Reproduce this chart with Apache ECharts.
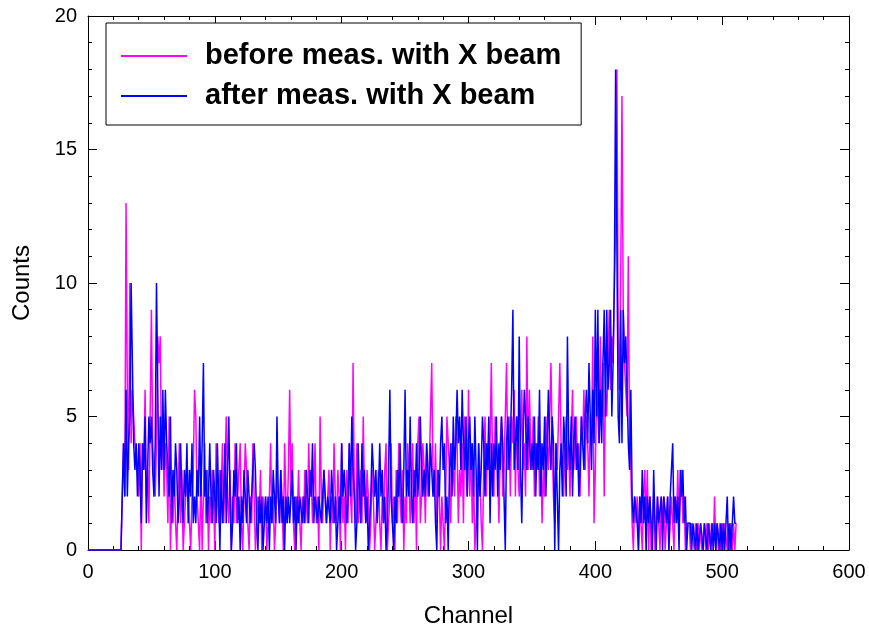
<!DOCTYPE html>
<html><head><meta charset="utf-8">
<script src="https://cdn.jsdelivr.net/npm/echarts@6/dist/echarts.min.js"></script>
<style>html,body{margin:0;padding:0;background:#fff}#c{width:869px;height:630px}</style>
</head><body><div id="c"></div>
<script>
// Counts per channel (index = channel)
var before = [
0,0,0,0,0,0,0,0,0,0, 0,0,0,0,0,0,0,0,0,0, 0,0,0,0,0,0,0,0,4,2,
13,6,3,10,4,6,5,4,4,3,
2,4,0,4,3,6,2,3,1,5,
9,4,3,2,4,8,7,8,3,5,
2,4,3,1,5,0,2,1,3,1,
0,2,4,1,3,0,1,2,3,2,
1,0,2,3,6,5,2,1,0,3,
0,2,4,1,3,0,2,1,3,2,
0,4,2,1,3,2,4,1,3,5,
2,1,3,0,2,1,4,1,2,3,
4,1,0,2,4,3,1,0,2,1,
4,2,0,1,2,1,3,0,2,1,
2,0,1,2,4,1,2,0,1,3,
2,1,3,2,0,4,2,1,3,6,
2,4,1,0,2,1,3,1,0,2,
1,3,2,1,4,2,3,1,2,4,
1,2,0,5,2,1,3,2,1,2,
3,0,2,1,4,2,1,3,2,0,
4,1,2,0,3,1,4,2,1,7,
2,1,4,1,2,3,1,5,2,1,
3,2,0,1,3,2,0,1,2,3,
1,0,2,1,3,4,0,1,2,4,
1,2,0,3,1,4,2,1,3,0,
2,1,4,3,1,2,4,1,3,0,
4,5,1,2,4,3,1,4,2,3,
5,7,3,2,4,1,3,2,0,2,
1,0,2,5,5,3,1,4,3,2,
5,4,1,3,2,4,1,5,3,2,
6,2,4,1,3,0,1,2,4,3,
1,0,3,5,2,4,3,4,7,3,
2,5,4,3,1,4,5,2,3,5,
7,3,5,2,5,4,6,2,5,3,
2,4,6,3,4,2,8,3,6,4,
3,5,2,4,3,5,2,4,1,3,
2,5,4,3,5,7,4,2,1,4,
3,5,7,4,3,2,4,5,3,4,
2,4,6,3,4,5,3,4,2,5,
4,6,3,5,4,2,5,4,8,1,
3,6,5,4,8,5,7,2,6,5,
7,9,6,8,7,10,12,18,8,6,
10,17,9,7,6,5,11,4,3,1,
0,2,1,2,0,2,1,0,2,3,
1,3,0,2,0,1,2,0,1,2,
1,0,2,1,2,0,1,2,0,1,
2,1,0,2,1,3,1,2,3,1,
2,0,1,1,1,0,1,1,0,1,
0,1,0,1,0,0,1,0,1,0,
1,0,1,0,2,0,1,0,1,0,
1,0,1,1,0,1,0,1,0,1,0,1
];
var after = [
0,0,0,0,0,0,0,0,0,0, 0,0,0,0,0,0,0,0,0,0, 0,0,0,0,0,0,0,0,4,2,
6,2,4,5,10,10,4,3,4,2,
4,3,1,4,3,5,1,3,5,4,
5,3,2,4,10,6,2,5,3,6,
3,6,4,3,2,5,1,3,2,4,
3,1,2,4,2,1,3,2,4,1,
3,2,4,1,2,1,3,2,5,2,
4,7,2,3,1,2,4,2,1,3,
2,1,4,2,0,3,1,2,4,1,
3,5,2,0,1,3,2,4,1,2,
0,2,1,3,2,1,3,2,1,2,
3,4,3,1,0,2,1,2,0,1,
2,1,2,0,2,1,3,2,1,5,
2,1,3,1,2,0,2,1,2,1,
2,3,1,2,0,2,1,2,2,1,
2,1,3,2,1,3,2,4,1,2,
2,1,2,2,1,2,3,2,1,2,
2,1,3,2,1,2,0,1,2,1,
4,2,3,2,1,2,4,2,5,3,
2,0,1,4,2,1,4,2,3,1,
2,0,1,2,4,3,2,3,1,2,
4,2,3,1,2,0,1,3,6,2,
1,0,2,1,3,2,4,2,1,3,
6,2,3,2,5,2,1,3,2,4,
2,3,5,3,2,3,2,4,3,2,
4,3,2,3,1,0,3,2,4,5,
3,4,1,2,0,3,4,2,5,3,
4,6,4,5,3,6,4,3,5,2,
4,5,3,4,2,5,3,0,4,2,
3,5,4,2,4,3,5,1,4,2,
4,3,5,2,4,3,5,4,2,0,
4,5,3,4,6,9,3,4,5,3,
8,3,1,4,6,5,3,5,4,3,
4,3,5,2,4,3,6,2,4,3,
5,2,4,6,4,3,5,4,0,4,
2,0,3,4,2,5,4,2,8,4,
3,5,2,4,5,3,4,2,3,5,
4,3,5,6,4,7,5,3,6,4,
9,5,9,4,6,4,7,9,5,9,
6,7,9,5,7,10,18,18,5,4,
9,4,9,7,8,6,4,3,6,2,
1,2,2,1,0,2,1,3,1,2,
0,2,1,2,1,0,3,1,0,2,
1,1,2,0,2,2,1,2,0,2,
3,4,1,2,1,2,0,3,2,3,
1,2,0,1,1,1,0,1,1,0,
1,0,0,1,1,0,1,1,0,1,
1,0,1,0,1,0,1,1,0,1,
0,1,0,1,2,0,1,0,1,2,1,1
];
var xTicks = [0, 100, 200, 300, 400, 500, 600];
var yTicks = [0, 5, 10, 15, 20];

function pairs(arr){ var o=[]; for (var i=0;i<arr.length;i++) o.push([i, arr[i]]); return o; }

var chart = echarts.init(document.getElementById('c'));
var font = 'Liberation Sans, Arial, sans-serif';
function tick(){ return {show:true, inside:true, length:9, lineStyle:{color:'#000', width:1}}; }
function minor(){ return {show:true, splitNumber:5, length:4, lineStyle:{color:'#000', width:1}}; }
chart.setOption({
  animation:false,
  backgroundColor:'#fff',
  grid:{left:88, right:20, top:16, bottom:80, containLabel:false, outerBoundsMode:'none'},
  legend:{
    left:106, top:23, orient:'vertical',
    data:['before meas. with X beam','after meas. with X beam'],
    icon:'rect',
    itemWidth:66, itemHeight:2, itemGap:6,
    padding:[16,20,12,15],
    borderColor:'#000', borderWidth:1, backgroundColor:'#fff',
    textStyle:{fontFamily:font, fontSize:29, fontWeight:'bold', color:'#000', lineHeight:34, padding:[0,0,0,13]}
  },
  xAxis:[{
    type:'value', min:xTicks[0], max:xTicks[xTicks.length-1], interval:100,
    name:'Channel', nameLocation:'middle', nameGap:54,
    nameTextStyle:{fontFamily:font, fontSize:24, color:'#000'},
    axisLine:{show:true, onZero:false, lineStyle:{color:'#000', width:1}},
    axisTick:tick(), minorTick:minor(),
    axisLabel:{fontFamily:font, fontSize:20, color:'#000', margin:12},
    splitLine:{show:false}
  },{
    type:'value', position:'top', min:xTicks[0], max:xTicks[xTicks.length-1], interval:100,
    axisLine:{show:true, onZero:false, lineStyle:{color:'#000', width:1}},
    axisTick:tick(), minorTick:minor(),
    axisLabel:{show:false}, splitLine:{show:false}
  }],
  yAxis:[{
    type:'value', min:yTicks[0], max:yTicks[yTicks.length-1], interval:5,
    name:'Counts', nameLocation:'middle', nameGap:54, nameRotate:90,
    nameTextStyle:{fontFamily:font, fontSize:24, color:'#000'},
    axisLine:{show:true, onZero:false, lineStyle:{color:'#000', width:1}},
    axisTick:tick(), minorTick:minor(),
    axisLabel:{fontFamily:font, fontSize:20, color:'#000', margin:11},
    splitLine:{show:false}
  },{
    type:'value', position:'right', min:yTicks[0], max:yTicks[yTicks.length-1], interval:5,
    axisLine:{show:true, onZero:false, lineStyle:{color:'#000', width:1}},
    axisTick:tick(), minorTick:minor(),
    axisLabel:{show:false}, splitLine:{show:false}
  }],
  series:[{
    name:'before meas. with X beam', type:'line', data:pairs(before),
    symbol:'none', lineStyle:{color:'#FF00FF', width:1.5}, itemStyle:{color:'#FF00FF'}
  },{
    name:'after meas. with X beam', type:'line', data:pairs(after),
    symbol:'none', lineStyle:{color:'#0000FF', width:1.5}, itemStyle:{color:'#0000FF'}
  }]
});
</script></body></html>
